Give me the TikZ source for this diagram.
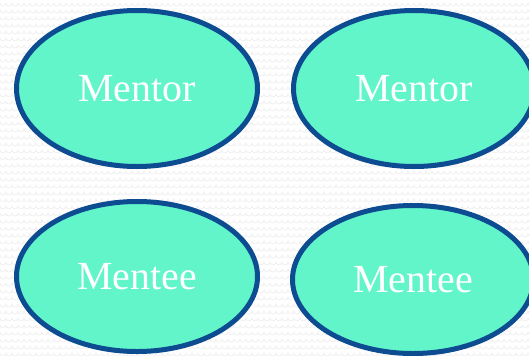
\documentclass[tikz,border=0pt]{standalone}
\usepackage{fontspec}
\setmainfont{Liberation Serif}
\usetikzlibrary{shapes.geometric}
\definecolor{mint}{RGB}{98,245,202}
\definecolor{rimblue}{RGB}{14,76,146}
\definecolor{texture}{RGB}{236,236,236}
\begin{document}
\begin{tikzpicture}[x=1bp,y=1bp,
  bubble/.style={ellipse, draw=rimblue, fill=mint, line width=5bp,
    inner sep=0pt, minimum width=241bp, text=white,
    font=\fontsize{40}{44}\selectfont},
  scallop/.style={draw=texture, line width=0.6bp}]
  \useasboundingbox (0,0) rectangle (529,355);
  \clip (0,0) rectangle (529,355);
  \fill[white] (0,0) rectangle (529,355);
  % faint scalloped paper texture
  \foreach \r in {0,...,50} {
    \draw[scallop] (0,{352-7*\r})
      \foreach \c in {0,...,88} { arc[start angle=180, end angle=360, radius=3bp] };
  }
  % the four role bubbles
  \node[bubble, minimum height=156bp] (mentorA) at (137,266.5) {Mentor};
  \node[bubble, minimum height=156bp] (mentorB) at (414,266.5) {Mentor};
  \node[bubble, minimum height=150bp] (menteeA) at (137,78.5) {Mentee};
  \node[bubble, minimum height=148bp] (menteeB) at (413,75.5) {Mentee};
\end{tikzpicture}
\end{document}
